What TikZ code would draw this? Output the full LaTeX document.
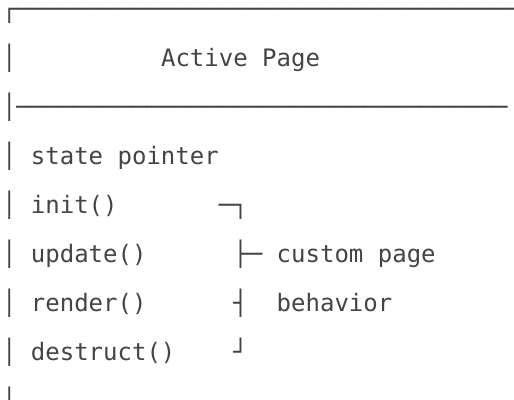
\documentclass[tikz,border=0pt]{standalone}
\usepackage{fontspec}
\setmonofont{DejaVu Sans Mono}
\usepackage{xcolor}
\usepackage{tikz}
\usetikzlibrary{positioning}
\definecolor{inkgray}{HTML}{444444}
\tikzset{ascii/.style={anchor=base west, inner sep=0pt, text=inkgray,
  font=\ttfamily\fontsize{24}{24}\selectfont}}

\begin{document}
\begin{tikzpicture}[x=14.46pt,y=-49pt]
\useasboundingbox (0pt,0pt) rectangle (514pt,-399pt);
\begin{scope}[xshift=1.8pt,yshift=-17.3pt]
% frame of the page box
\node[ascii] (top) at (0,0) {┌───────────────────────────────────};
\node[ascii] (bar1) at (0,1) {│};
\node[ascii] (title) at (11,1) {Active Page};
\node[ascii] (rule) at (0,2) {│──────────────────────────────────};
% members
\foreach \r/\txt [count=\i] in {3/state pointer, 4/init(), 5/update(), 6/render(), 7/destruct()} {
  \node[ascii] (bar\r) at (0,\r) {│};
  \node[ascii] (m\i) at (2,\r) {\txt};
}
\node[ascii] (bar8) at (0,8) {│};
% brace round the callbacks
\node[ascii] (b1) at (15,4) {─┐};
\node[ascii] (b2) at (16,5) {├─};
\node[ascii] (b3) at (16,6) {┤};
\node[ascii] (b4) at (16,7) {┘};
\node[ascii] (note1) at (19,5) {custom page};
\node[ascii] (note2) at (19,6) {behavior};
\end{scope}
\end{tikzpicture}
\end{document}
